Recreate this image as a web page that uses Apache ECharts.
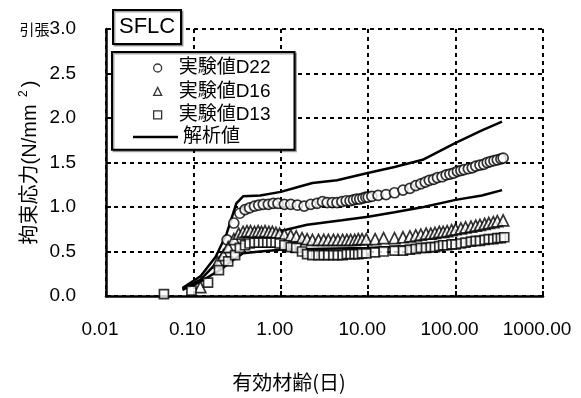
<!DOCTYPE html>
<html>
<head>
<meta charset="utf-8">
<script src="https://cdn.jsdelivr.net/npm/echarts@6/dist/echarts.min.js"></script>
<style>
  html, body { margin: 0; padding: 0; background: #fff; }
  #chart { width: 581px; height: 398px; }
</style>
</head>
<body>
<div id="chart"></div>
<script>
// Measured restraint stress (N/mm2) against effective age (days), SFLC specimens
const d22Age = [0.243, 0.29, 0.34, 0.39, 0.44, 0.50, 0.56, 0.63, 0.72, 0.82, 0.93, 1.1, 1.3, 1.55, 1.85, 2.2, 2.6, 3.0, 3.4, 3.9, 4.4, 5.0, 5.6, 6.2, 6.8, 7.4, 8.0, 8.7, 9.4, 10, 11, 13, 16, 20, 25, 30, 35, 40, 45, 50, 56, 62, 70, 78, 86, 95, 105, 115, 125, 140, 155, 170, 190, 210, 230, 250, 275, 300, 330, 350];
const d22Stress = [0.63, 0.82, 0.93, 0.97, 0.99, 1.01, 1.02, 1.03, 1.03, 1.04, 1.04, 1.03, 1.03, 1.02, 1.01, 1.03, 1.04, 1.06, 1.05, 1.05, 1.05, 1.06, 1.07, 1.07, 1.08, 1.09, 1.09, 1.10, 1.11, 1.11, 1.12, 1.13, 1.14, 1.16, 1.19, 1.21, 1.24, 1.26, 1.28, 1.30, 1.31, 1.33, 1.34, 1.36, 1.37, 1.38, 1.40, 1.41, 1.42, 1.43, 1.44, 1.46, 1.47, 1.48, 1.50, 1.51, 1.52, 1.53, 1.54, 1.55];

const d16Age = [0.12, 0.19, 0.22, 0.25, 0.29, 0.33, 0.37, 0.41, 0.45, 0.50, 0.55, 0.60, 0.66, 0.73, 0.80, 0.88, 0.97, 1.1, 1.3, 1.5, 1.75, 2.0, 2.3, 2.7, 3.1, 3.5, 4.0, 4.5, 5.1, 5.7, 6.3, 7.0, 7.7, 8.5, 9.5, 12, 15, 20, 25, 30, 35, 40, 46, 52, 58, 65, 72, 80, 90, 100, 115, 130, 150, 170, 190, 215, 240, 270, 300, 350];
const d16Stress = [0.10, 0.38, 0.46, 0.55, 0.64, 0.70, 0.72, 0.73, 0.73, 0.72, 0.73, 0.72, 0.73, 0.72, 0.72, 0.71, 0.70, 0.69, 0.68, 0.67, 0.65, 0.64, 0.63, 0.63, 0.63, 0.63, 0.63, 0.63, 0.63, 0.63, 0.63, 0.63, 0.64, 0.64, 0.64, 0.64, 0.65, 0.65, 0.66, 0.67, 0.68, 0.69, 0.70, 0.70, 0.71, 0.72, 0.72, 0.73, 0.74, 0.75, 0.76, 0.77, 0.78, 0.79, 0.80, 0.81, 0.82, 0.83, 0.84, 0.85];

const d13Age = [0.046, 0.095, 0.147, 0.196, 0.25, 0.30, 0.34, 0.39, 0.44, 0.50, 0.56, 0.63, 0.70, 0.78, 0.87, 0.97, 1.1, 1.3, 1.5, 1.75, 2.0, 2.3, 2.7, 3.1, 3.5, 4.0, 4.5, 5.1, 5.7, 6.3, 7.0, 7.7, 8.5, 9.5, 12, 15, 20, 25, 30, 35, 40, 46, 52, 58, 65, 72, 80, 90, 100, 115, 130, 150, 170, 190, 215, 240, 270, 300, 330, 360];
const d13Stress = [0.02, 0.06, 0.15, 0.29, 0.39, 0.46, 0.54, 0.57, 0.59, 0.60, 0.60, 0.60, 0.60, 0.60, 0.60, 0.59, 0.57, 0.55, 0.54, 0.50, 0.47, 0.46, 0.46, 0.46, 0.46, 0.46, 0.46, 0.46, 0.47, 0.47, 0.47, 0.47, 0.48, 0.48, 0.49, 0.50, 0.51, 0.51, 0.52, 0.53, 0.54, 0.54, 0.55, 0.55, 0.56, 0.57, 0.57, 0.58, 0.58, 0.59, 0.60, 0.61, 0.62, 0.62, 0.63, 0.64, 0.64, 0.65, 0.65, 0.66];

// Analytical curves
const calcUpperAge = [0.075, 0.12, 0.18, 0.24, 0.31, 0.37, 0.58, 1.0, 1.4, 2.3, 4.4, 9.6, 20, 42, 100, 200, 340];
const calcUpperStress = [0.09, 0.22, 0.44, 0.70, 1.04, 1.12, 1.13, 1.17, 1.21, 1.27, 1.30, 1.38, 1.45, 1.53, 1.72, 1.86, 1.96];
const calcMidAge = [0.075, 0.12, 0.18, 0.24, 0.31, 0.37, 0.5, 0.8, 1.0, 2.0, 5.0, 10, 20, 43, 100, 200, 340];
const calcMidStress = [0.08, 0.18, 0.36, 0.55, 0.68, 0.71, 0.72, 0.72, 0.73, 0.80, 0.85, 0.89, 0.94, 1.00, 1.08, 1.13, 1.19];
const calcLowAge = [0.075, 0.12, 0.2, 0.28, 0.37, 0.58, 1.0, 3.0, 9.6, 30, 100, 200, 360];
const calcLowStress = [0.07, 0.16, 0.29, 0.40, 0.48, 0.50, 0.52, 0.53, 0.54, 0.56, 0.59, 0.63, 0.69];

const yTicks = { min: 0, max: 3, step: 0.5 };
const xRange = { min: 0.01, max: 1000 };

const pairs = (xs, ys) => xs.map((x, i) => [x, ys[i]]);

const FONT = "'Liberation Sans', 'Noto Sans CJK JP', sans-serif";
const CJK = "'Noto Sans CJK JP', sans-serif";

const chart = echarts.init(document.getElementById('chart'), null, { renderer: 'canvas' });

const markerStyle = { color: '#fff', borderColor: '#000', borderWidth: 1.7 };
const lineStyle = { color: '#000', width: 2.5 };

const calcSeries = [
  [calcUpperAge, calcUpperStress],
  [calcMidAge, calcMidStress],
  [calcLowAge, calcLowStress]
].map(([xs, ys]) => ({
  name: '解析値',
  type: 'line',
  data: pairs(xs, ys),
  symbol: 'none',
  showSymbol: false,
  lineStyle: lineStyle,
  itemStyle: { color: '#000' },
  z: 2
}));

const legendText = { fontFamily: FONT, fontSize: 19, lineHeight: 20, color: '#000' };

const option = {
  animation: false,
  backgroundColor: '#fff',
  grid: { left: 106, right: 38, top: 29, bottom: 102, show: false, outerBoundsMode: 'none', containLabel: false },
  title: {
    text: 'SFLC',
    left: 113,
    top: 10,
    padding: [6, 6, 6, 6],
    backgroundColor: '#fff',
    borderColor: '#000',
    borderWidth: 2,
    shadowColor: 'rgba(0,0,0,0.35)',
    shadowOffsetX: 1.5,
    shadowOffsetY: 1.5,
    textStyle: { fontFamily: FONT, fontSize: 22, fontWeight: 'normal', color: '#000' }
  },
  legend: [
    {
      // boxed legend for the measured series; bottom padding leaves room for the analysis row
      orient: 'vertical',
      left: 112,
      top: 52,
      padding: [6, 24, 25, 41],
      itemWidth: 8,
      itemHeight: 8,
      itemGap: 3.4,
      backgroundColor: '#fff',
      borderColor: '#000',
      borderWidth: 2,
      shadowColor: 'rgba(0,0,0,0.35)',
      shadowOffsetX: 1.5,
      shadowOffsetY: 1.5,
      itemStyle: { color: '#fff', borderColor: '#000', borderWidth: 1.3 },
      data: [
        { name: '実験値D22', icon: 'circle' },
        { name: '実験値D16', icon: 'triangle' },
        { name: '実験値D13', icon: 'rect' }
      ],
      textStyle: Object.assign({ padding: [0, 0, 0, 12] }, legendText),
      z: 10
    },
    {
      orient: 'vertical',
      left: 133,
      top: 127,
      padding: 0,
      itemWidth: 45,
      itemHeight: 2.5,
      data: [{ name: '解析値', icon: 'rect' }],
      itemStyle: { color: '#000', borderWidth: 0 },
      textStyle: Object.assign({ padding: [0, 0, 0, 0] }, legendText),
      z: 11
    }
  ],
  xAxis: {
    type: 'log',
    logBase: 10,
    min: xRange.min,
    max: xRange.max,
    name: '有効材齢(日)',
    nameLocation: 'middle',
    nameGap: 76,
    nameMoveOverlap: false,
    nameTextStyle: { fontFamily: CJK, fontSize: 20, color: '#000', padding: [0, 71, 0, 0] },
    axisLine: { show: true, onZero: false, lineStyle: { color: '#000', width: 2.5 } },
    axisTick: { show: true, inside: true, length: 5, lineStyle: { color: '#000', width: 2 } },
    axisLabel: {
      margin: 24,
      fontFamily: FONT,
      fontSize: 19,
      color: '#000',
      padding: [0, 12, 0, 0],
      formatter: v => Number(v).toFixed(2)
    },
    splitLine: { show: true, lineStyle: { color: '#000', width: 2, type: [4, 4] } },
    minorTick: { show: false }
  },
  yAxis: {
    type: 'value',
    min: yTicks.min,
    max: yTicks.max,
    interval: yTicks.step,
    name: '拘束応力(N/mm {sup|2})',
    nameLocation: 'middle',
    nameRotate: 90,
    nameGap: 64,
    nameMoveOverlap: false,
    nameTextStyle: {
      fontFamily: FONT,
      fontSize: 20,
      color: '#000',
      rich: {
        sup: { fontFamily: FONT, fontSize: 12, color: '#000', padding: [0, 3, 12, 2] }
      }
    },
    axisLine: { show: true, onZero: false, lineStyle: { color: '#000', width: 2.5 } },
    axisTick: { show: true, inside: true, length: 5, lineStyle: { color: '#000', width: 2 } },
    axisLabel: {
      margin: 30,
      fontFamily: FONT,
      fontSize: 19,
      color: '#000',
      formatter: v => (v === yTicks.max ? '{t|引張}' : '') + v.toFixed(1),
      rich: { t: { fontFamily: CJK, fontSize: 15, color: '#000' } }
    },
    splitLine: { show: true, lineStyle: { color: '#000', width: 2, type: [4, 4] } }
  },
  series: [
    ...calcSeries,
    {
      name: '実験値D22',
      type: 'scatter',
      data: pairs(d22Age, d22Stress),
      symbol: 'circle',
      symbolSize: 10,
      itemStyle: markerStyle,
      z: 3
    },
    {
      name: '実験値D16',
      type: 'scatter',
      data: pairs(d16Age, d16Stress),
      symbol: 'triangle',
      symbolSize: 11,
      itemStyle: markerStyle,
      z: 3
    },
    {
      name: '実験値D13',
      type: 'scatter',
      data: pairs(d13Age, d13Stress),
      symbol: 'rect',
      symbolSize: 9,
      itemStyle: markerStyle,
      z: 3
    }
  ]
};

chart.setOption(option);
</script>
</body>
</html>
